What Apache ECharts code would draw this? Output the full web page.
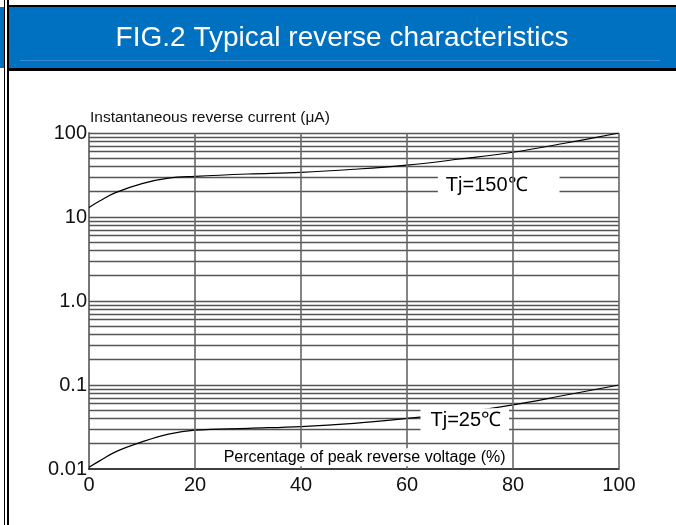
<!DOCTYPE html>
<html>
<head>
<meta charset="utf-8">
<script src="https://cdn.jsdelivr.net/npm/echarts@6/dist/echarts.min.js"></script>
<style>html,body{margin:0;padding:0;background:#fff}#c{width:676px;height:525px}</style>
</head>
<body>
<div id="c"></div>
<script>
// ---- data ----
var voltagePct = [0, 2, 5, 10, 15, 20, 30, 40, 50, 60, 70, 80, 90, 100];
var current150 = [13, 15.5, 19.5, 25, 29, 30.5, 32.5, 34, 37, 41.5, 49, 59, 76, 100];
var current25  = [0.0105, 0.0125, 0.016, 0.021, 0.026, 0.029, 0.0305, 0.032, 0.035, 0.040, 0.047, 0.058, 0.076, 0.1];
var xTicks = [0, 20, 40, 60, 80, 100];
var yTickLabels = {"0.01": "0.01", "0.1": "0.1", "1": "1.0", "10": "10", "100": "100"};
var hGridValues = [0.02,0.03,0.04,0.05,0.06,0.07,0.08,0.09,0.1,
                   0.2,0.3,0.4,0.5,0.6,0.7,0.8,0.9,1,
                   2,3,4,5,6,7,8,9,10,
                   20,30,40,50,60,70,80,90,100];
var label150 = {text: "Tj=150℃", x: 77.3, y: 23.5};
var label25  = {text: "Tj=25℃", x: 70.9, y: 0.038};
var xAxisTitle = {text: "Percentage of peak reverse voltage (%)", x: 52, y: 0.0138};
var yAxisTitle = "Instantaneous reverse current (μA)";
var titleText = "FIG.2 Typical reverse characteristics";

function zip(a, b) { return a.map(function (v, i) { return [v, b[i]]; }); }

var chart = echarts.init(document.getElementById('c'), null, {renderer: 'canvas'});
var font = '"Liberation Sans", Arial, sans-serif';

function textLabel(size, pad) {
  return {
    show: true, position: 'inside', opacity: 1,
    formatter: function (p) { return p.value[2]; },
    color: '#000', fontSize: size, fontFamily: font, backgroundColor: '#fff',
    textBorderWidth: 0, padding: pad
  };
}

var option = {
  animation: false,
  backgroundColor: '#fff',
  grid: {left: 89, right: 57, top: 133, bottom: 56},
  xAxis: {
    type: 'value', min: 0, max: 100, interval: 20,
    axisLine: {show: true, lineStyle: {color: '#000', width: 1.5}},
    axisTick: {show: false},
    splitLine: {show: false},
    axisLabel: {color: '#111', fontSize: 20, fontFamily: font, margin: 6}
  },
  yAxis: {
    type: 'log', logBase: 10, min: 0.01, max: 100,
    axisLine: {show: true, lineStyle: {color: '#777', width: 2}},
    axisTick: {show: false},
    splitLine: {show: false},
    axisLabel: {
      color: '#111', fontSize: 20, fontFamily: font, margin: 2,
      formatter: function (v) { var k = String(+v.toPrecision(3)); return yTickLabels[k] || ''; }
    }
  },
  graphic: [
    {type: 'rect', shape: {x: 0, y: 7, width: 676, height: 61}, style: {fill: '#0070C0'}, z: 0},
    {type: 'rect', shape: {x: 4, y: 5, width: 672, height: 2}, style: {fill: '#000'}},
    {type: 'rect', shape: {x: 4, y: 68, width: 672, height: 3}, style: {fill: '#000'}},
    {type: 'rect', shape: {x: 20, y: 60, width: 640, height: 1}, style: {fill: '#3a8ad0'}},
    {type: 'rect', shape: {x: 5, y: 0, width: 2, height: 525}, style: {fill: '#fff'}},
    {type: 'rect', shape: {x: 4, y: 0, width: 1, height: 525}, style: {fill: '#000'}},
    {type: 'rect', shape: {x: 7, y: 0, width: 2, height: 525}, style: {fill: '#000'}},
    {type: 'text', x: 342, y: 38, style: {text: titleText, fill: '#fff', font: '28px ' + font, textAlign: 'center', textVerticalAlign: 'middle'}},
    {type: 'text', x: 90, y: 118, style: {text: yAxisTitle, fill: '#111', font: '15.5px ' + font, textAlign: 'left', textVerticalAlign: 'middle'}}
  ],
  series: [
    {
      // horizontal grid lines
      type: 'line', data: [], z: 1, silent: true,
      markLine: {
        z: 1, silent: true, symbol: 'none', label: {show: false}, animation: false,
        lineStyle: {color: '#555', width: 1.3, type: 'solid'},
        data: hGridValues.map(function (v) { return {yAxis: v}; })
      }
    },
    {
      name: 'Tj=150', type: 'line', data: zip(voltagePct, current150), z: 2,
      smooth: 0.4, showSymbol: false, lineStyle: {color: '#000', width: 1.2}
    },
    {
      name: 'Tj=25', type: 'line', data: zip(voltagePct, current25), z: 2,
      smooth: 0.4, showSymbol: false, lineStyle: {color: '#000', width: 1.2}
    },
    {
      type: 'scatter', symbolSize: 1, z: 3, silent: true,
      itemStyle: {color: '#fff'},
      data: [{value: [label150.x, label150.y, label150.text], label: textLabel(20, [2, 32, 2, 8])},
             {value: [label25.x, label25.y, label25.text], label: textLabel(20, [2, 8, 2, 10])}],
      label: textLabel(20, [2, 8, 2, 8])
    },
    {
      // vertical grid lines
      type: 'line', data: [], z: 4, silent: true,
      markLine: {
        z: 4, silent: true, symbol: 'none', label: {show: false}, animation: false,
        lineStyle: {color: '#666', width: 1.6, type: 'solid'},
        data: xTicks.slice(1).map(function (v) { return {xAxis: v}; })
      }
    },
    {
      type: 'scatter', symbolSize: 1, z: 5, silent: true,
      itemStyle: {color: '#fff'},
      data: [{value: [xAxisTitle.x, xAxisTitle.y, xAxisTitle.text]}],
      label: textLabel(16, [1, 4, 1, 4])
    }
  ]
};
chart.setOption(option);
</script>
</body>
</html>
